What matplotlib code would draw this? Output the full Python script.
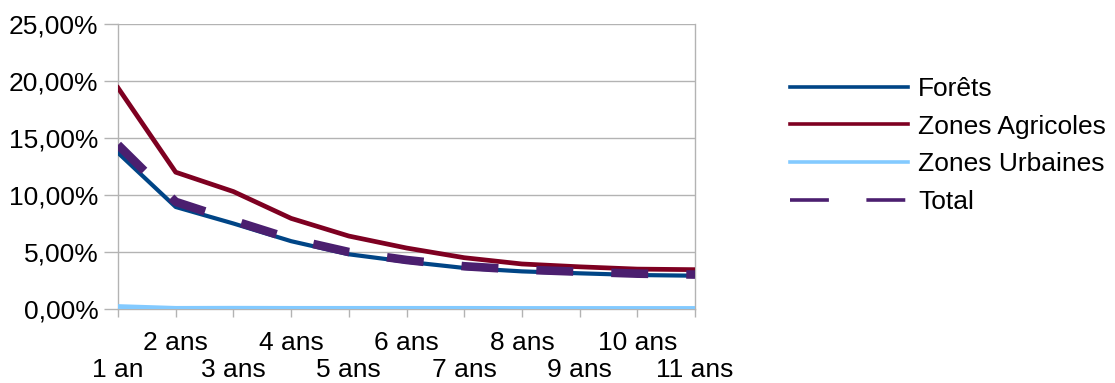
import matplotlib
matplotlib.use("Agg")
import matplotlib.pyplot as plt
from matplotlib.lines import Line2D
from matplotlib.ticker import FuncFormatter, MultipleLocator, FixedLocator, FixedFormatter

plt.rcParams['font.family'] = ['Liberation Sans', 'DejaVu Sans']
plt.rcParams['lines.scale_dashes'] = False

categories = ['1 an', '2 ans', '3 ans', '4 ans', '5 ans', '6 ans', '7 ans',
              '8 ans', '9 ans', '10 ans', '11 ans']
forets = [13.7, 8.95, 7.5, 5.95, 4.8, 4.15, 3.6, 3.3, 3.13, 2.98, 2.92]
agricoles = [19.4, 12.0, 10.3, 7.95, 6.4, 5.35, 4.5, 3.95, 3.7, 3.5, 3.45]
urbaines = [0.22, 0.06, 0.07, 0.06, 0.06, 0.06, 0.06, 0.05, 0.05, 0.05, 0.05]
total = [14.4, 9.4, 7.75, 6.15, 5.0, 4.3, 3.75, 3.45, 3.27, 3.1, 3.02]
series_names = ['Forêts', 'Zones Agricoles', 'Zones Urbaines', 'Total']
colors = ['#004586', '#7E0021', '#83CAFF', '#4B1F6F']

FS = 19

fig = plt.figure(figsize=(11.15, 3.83), dpi=100)
ax = fig.add_axes([118/1115, 1-309/383, (695-118)/1115, (309-24)/383])

x = list(range(1, len(categories) + 1))
ax.plot(x, forets, color=colors[0], lw=3.0, solid_joinstyle='round', zorder=3)
ax.plot(x, agricoles, color=colors[1], lw=3.4, solid_joinstyle='round', zorder=3)
ax.plot(x, urbaines, color=colors[2], lw=3.4, solid_joinstyle='round', zorder=3)
ax.plot(x, total, color=colors[3], lw=6.2, dashes=(26.6, 27.4), zorder=4)

ax.set_xlim(1, 11)
ax.set_ylim(0, 25)
ax.yaxis.set_major_locator(MultipleLocator(5))
ax.yaxis.set_major_formatter(FuncFormatter(lambda v, p: f"{v:.2f}".replace('.', ',') + '%'))
ax.grid(axis='y', color='#b3b3b3', lw=1.0)
ax.set_axisbelow(True)

# staggered category labels: odd categories on the lower row (major), even on the upper row (minor)
odd_x = x[0::2]
even_x = x[1::2]
ax.xaxis.set_major_locator(FixedLocator(odd_x))
ax.xaxis.set_major_formatter(FixedFormatter(categories[0::2]))
ax.xaxis.set_minor_locator(FixedLocator(even_x))
ax.xaxis.set_minor_formatter(FixedFormatter(categories[1::2]))

for s in ['left', 'bottom', 'right']:
    ax.spines[s].set_color('#b3b3b3')
    ax.spines[s].set_linewidth(1.0)
ax.spines['top'].set_visible(False)
ax.tick_params(axis='both', which='both', colors='#b3b3b3', labelcolor='black', labelsize=FS)
ax.tick_params(axis='x', which='minor', length=6, width=1, pad=10)
ax.tick_params(axis='x', which='major', length=6, width=1, pad=29)
ax.tick_params(axis='y', length=10, width=1, pad=4)

handles = [
    Line2D([], [], color=colors[0], lw=2.6),
    Line2D([], [], color=colors[1], lw=2.6),
    Line2D([], [], color=colors[2], lw=2.6),
    Line2D([], [], color=colors[3], lw=2.6, dashes=(28, 27)),
]
fig.legend(handles, series_names, loc='upper left',
           bbox_to_anchor=(790/1115, 1-77/383), frameon=False,
           fontsize=FS, handlelength=4.47, handletextpad=0.38,
           labelspacing=0.52, borderaxespad=0, borderpad=0)

fig.savefig('out.png', dpi=100)
